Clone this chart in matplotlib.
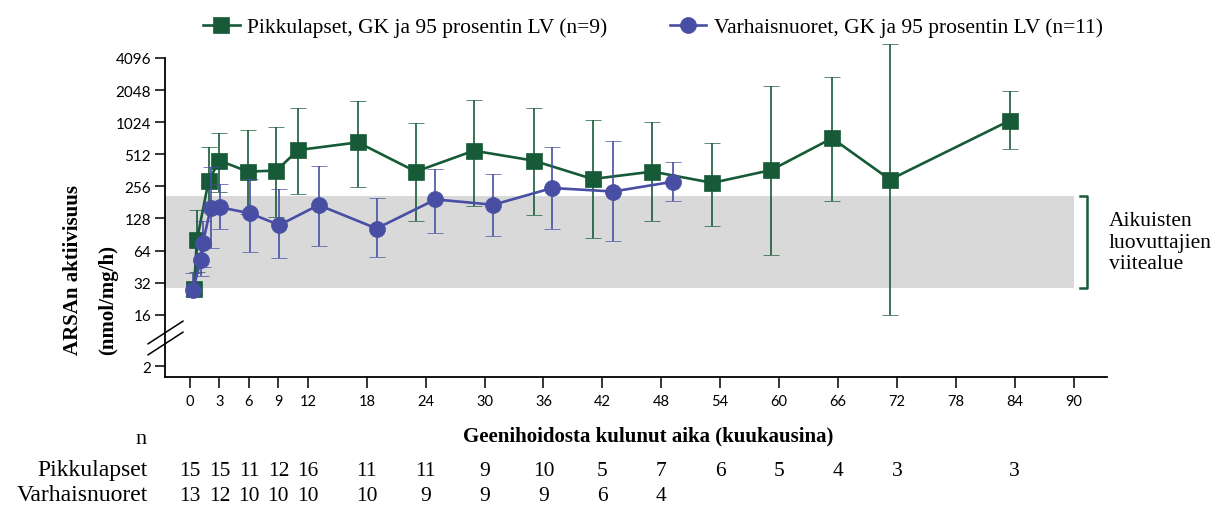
import numpy as np
import matplotlib
matplotlib.use("Agg")
import matplotlib.pyplot as plt
from matplotlib.lines import Line2D
from matplotlib.ticker import NullLocator
from matplotlib.transforms import blended_transform_factory

# Pikkulapset (vihreä): kuukaudet, GK ja 95 % LV
kk_pikku = [0.4, 0.7, 1.9, 3.0, 5.9, 8.8, 11.0, 17.1, 23.0, 28.9, 35.0, 41.0, 47.1, 53.2, 59.2, 65.4, 71.3, 83.5]
gk_pikku = [28, 80, 290, 446, 352, 360, 560, 662, 352, 553, 446, 300, 352, 276, 364, 724, 296, 1060]
ala_pikku = [26, 40, 154, 226, 140, 133, 217, 254, 120, 169, 139, 84, 122, 109, 58, 188, 16, 572]
yla_pikku = [32, 152, 596, 810, 870, 915, 1390, 1630, 1000, 1665, 1380, 1075, 1024, 652, 2230, 2720, 5580, 2010]

# Varhaisnuoret (sininen)
kk_varhais = [0.3, 1.1, 1.3, 2.1, 3.05, 6.1, 9.1, 13.1, 19.0, 25.0, 30.9, 36.9, 43.1, 49.2]
gk_varhais = [27.5, 52, 75, 160, 163, 143, 111, 171, 103, 193, 172, 247, 229, 283]
ala_varhais = [24, 37, 45, 67, 103, 62, 55, 70, 56, 94, 88, 102, 78, 188]
yla_varhais = [39, 70, 120, 388, 270, 302, 242, 397, 197, 375, 333, 596, 685, 431]

# potilasmäärät taulukkoon
n_kk_pikku = [0, 3, 6, 9, 12, 18, 24, 30, 36, 42, 48, 54, 60, 66, 72, 84]
n_pikku = [15, 15, 11, 12, 16, 11, 11, 9, 10, 5, 7, 6, 5, 4, 3, 3]
n_kk_varhais = [0, 3, 6, 9, 12, 18, 24, 30, 36, 42, 48]
n_varhais = [13, 12, 10, 10, 10, 10, 9, 9, 9, 6, 4]

# aikuisten luovuttajien viitealue
viite_ala = 28.4
viite_yla = 208

x_ticks = [0, 3, 6, 9, 12, 18, 24, 30, 36, 42, 48, 54, 60, 66, 72, 78, 84, 90]
y_ticks = [16, 32, 64, 128, 256, 512, 1024, 2048, 4096]

vihrea = "#175a37"
sininen = "#484ea3"
harmaa = "#d9d9d9"

plt.rcParams["font.family"] = ["Liberation Serif", "DejaVu Serif"]

fig = plt.figure(figsize=(12.19, 5.06), dpi=100)
W, H = 1219, 506
ax = fig.add_axes([165 / W, 1 - 378 / H, 942 / W, (378 - 39.7) / H])

ax.set_yscale("log", base=2)

# katkaistu akseli: "2" näytetään katkon alapuolella
y_kaksi = 2 ** 2.40
y_min = 2 ** 2.06
y_max = 2 ** 12.6
ax.set_ylim(y_min, y_max)
ax.set_xlim(-2.55, 93.4)

ax.fill_between([-2.55, 90], viite_ala, viite_yla, color=harmaa, lw=0, zorder=0)

ax.errorbar(kk_pikku, gk_pikku,
            yerr=[np.array(gk_pikku) - np.array(ala_pikku), np.array(yla_pikku) - np.array(gk_pikku)],
            color=vihrea, lw=1.9, marker="s", ms=11, mec=vihrea, mew=0.5,
            elinewidth=1.2, capsize=6, capthick=1.2, zorder=3, clip_on=False)
ax.errorbar(kk_varhais, gk_varhais,
            yerr=[np.array(gk_varhais) - np.array(ala_varhais), np.array(yla_varhais) - np.array(gk_varhais)],
            color=sininen, lw=1.9, marker="o", ms=11.5, mec=sininen, mew=0.5,
            elinewidth=1.2, capsize=6, capthick=1.2, zorder=4, clip_on=False)

# hakasulje viitealueen viereen
ax.plot([90.6, 91.4, 91.4, 90.6], [viite_yla, viite_yla, viite_ala, viite_ala],
        color=vihrea, lw=1.8, clip_on=False)
ax.text(93.6, np.sqrt(viite_ala * viite_yla), "Aikuisten\nluovuttajien\nviitealue",
        fontsize=15.5, va="center", ha="left", linespacing=1.2)

ax.set_yticks([y_kaksi] + y_ticks, labels=["2"] + [str(v) for v in y_ticks])
ax.yaxis.set_minor_locator(NullLocator())
ax.set_xticks(x_ticks)
ax.spines["top"].set_visible(False)
ax.spines["right"].set_visible(False)
ax.spines["left"].set_bounds(y_min, 4096)
ax.spines["left"].set_linewidth(1.3)
ax.spines["bottom"].set_linewidth(1.3)
ax.tick_params(axis="y", length=7, width=1.1, pad=3, labelsize=11, labelfontfamily="Lato")
ax.tick_params(axis="x", length=8, width=1.1, pad=4, labelsize=10.5, labelfontfamily="Lato")

# katkomerkit y-akselille
katko = blended_transform_factory(ax.transAxes, ax.transData)
for e in [2 ** 3.45, 2 ** 3.12]:
    ax.plot([0], [e], transform=katko, marker=[(-1, -0.65), (1, 0.65)], ms=26,
            color="k", mew=1.1, clip_on=False)

# akselien otsikot
fig.text(73 / W, 1 - 355 / H, "ARSAn aktiivisuus", rotation=90, ha="center", va="bottom",
         fontsize=15, fontweight="bold")
fig.text(108 / W, 1 - 355 / H, "(nmol/mg/h)", rotation=90, ha="center", va="bottom",
         fontsize=15, fontweight="bold")
fig.text(648 / W, 1 - 436 / H, "Geenihoidosta kulunut aika (kuukausina)", ha="center", va="center",
         fontsize=15, fontweight="bold")

# n-taulukko
sek = blended_transform_factory(ax.transData, fig.transFigure)
fig.text(141 / W, 1 - 440 / H, "n", ha="center", va="center", fontsize=16)
fig.text(148 / W, 1 - 476 / H, "Pikkulapset", ha="right", va="baseline", fontsize=17)
fig.text(148 / W, 1 - 501 / H, "Varhaisnuoret", ha="right", va="baseline", fontsize=17)
for k, n in zip(n_kk_pikku, n_pikku):
    ax.text(k, 1 - 476 / H, str(n), transform=sek, ha="center", va="baseline", fontsize=15.5)
for k, n in zip(n_kk_varhais, n_varhais):
    ax.text(k, 1 - 501 / H, str(n), transform=sek, ha="center", va="baseline", fontsize=15.5)

# selite
kahvat = [Line2D([], [], color=vihrea, lw=1.9, marker="s", ms=11, mew=0.5),
          Line2D([], [], color=sininen, lw=1.9, marker="o", ms=11.5, mew=0.5)]
fig.legend(kahvat, ["Pikkulapset, GK ja 95 prosentin LV (n=9)",
                    "Varhaisnuoret, GK ja 95 prosentin LV (n=11)"],
           loc="center", bbox_to_anchor=(653 / W, 1 - 28 / H), ncol=2, frameon=False,
           fontsize=15.5, handlelength=1.7, handletextpad=0.35, columnspacing=2.9)

fig.savefig("out.png", dpi=100)
